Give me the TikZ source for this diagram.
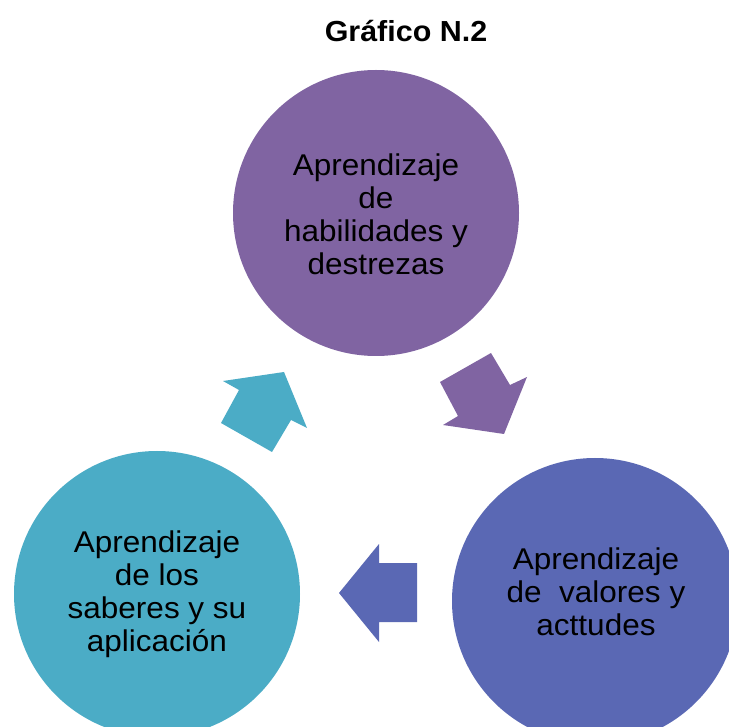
\documentclass[tikz,border=0pt]{standalone}
\usepackage{fontspec}
\setmainfont{Liberation Sans}[FakeStretch=1.05]
\definecolor{cpurple}{HTML}{8064A2}
\definecolor{cblue}{HTML}{5A68B4}
\definecolor{cteal}{HTML}{4BACC6}
\begin{document}
\begin{tikzpicture}[x=1pt,y=-1pt,
  bubble/.style={circle,minimum size=286pt,inner sep=0pt},
  label/.style={align=center,inner sep=0pt,font=\fontsize{30}{33}\selectfont},
  cyclearrow/.style={draw=none}]
\useasboundingbox (0,0) rectangle (729,727);
\clip (0,0) rectangle (729,727);
\fill[white] (0,0) rectangle (729,727);
% circles
\node[bubble,fill=cpurple] (top) at (376,213) {};
\node[bubble,fill=cblue] (right) at (595,601) {};
\node[bubble,fill=cteal] (left) at (157,594) {};
% texts
\node[label] (ttop) at (376,214) {Aprendizaje\\de\\habilidades y\\destrezas};
\node[label] (tright) at (596,592) {Aprendizaje\\de\ \ valores y\\acttudes};
\node[label] (tleft) at (157,594) {Aprendizaje\\de los\\saberes y su\\aplicación};
% title
\node[anchor=base,inner sep=0pt,font=\fontsize{29}{33}\selectfont\bfseries] (title) at (406,42) {Gráfico N.2};
% arrows
\fill[cpurple] (440,382) -- (491,353) -- (510,385) -- (527,377) -- (504,434) -- (443,425) -- (458,416) -- cycle;
\fill[cblue] (417,563) -- (417,622) -- (379,622) -- (379,642) -- (339,593) -- (379,544) -- (379,563) -- cycle;
\fill[cteal] (223,381) -- (284,372) -- (307,428) -- (291,420) -- (272,452) -- (221,423) -- (239,390) -- cycle;
\end{tikzpicture}
\end{document}
